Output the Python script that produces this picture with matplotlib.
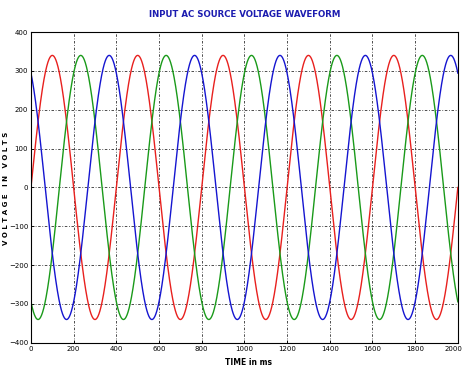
import numpy as np
import matplotlib
matplotlib.use("Agg")
import matplotlib.pyplot as plt
import matplotlib.transforms as mtransforms

# Data
phase_names = ["Phase A", "Phase B", "Phase C"]
phase_colors = ["#e8201e", "#1a9a1a", "#1515d0"]
phase_shift_deg = [0, -120, 120]      # relative phase of each waveform
peak_voltage = 340                    # volts
period_ms = 400                       # ms per cycle
t_end_ms = 2000
xticks = [0, 200, 400, 600, 800, 1000, 1200, 1400, 1600, 1800, 2000]
yticks = [-400, -300, -200, -100, 0, 100, 200, 300, 400]

t = np.linspace(0, t_end_ms, 4001)

fig = plt.figure(figsize=(4.62, 3.69), dpi=100)
ax = fig.add_axes([0.067, 0.071, 0.924, 0.842])

for name, col, ph in zip(phase_names, phase_colors, phase_shift_deg):
    v = peak_voltage * np.sin(2 * np.pi * t / period_ms + np.deg2rad(ph))
    ax.plot(t, v, color=col, lw=1.0, label=name)

ax.set_xlim(0, t_end_ms)
ax.set_ylim(-400, 400)
ax.set_xticks(xticks)
ax.set_yticks(yticks)
ax.tick_params(labelsize=5, length=2, width=0.6, direction="in", pad=2)
ax.grid(True, color="#303030", linestyle=(0, (3, 2, 1, 2)), linewidth=0.6)
for s in ax.spines.values():
    s.set_linewidth(0.8)

fig.canvas.draw()
last = ax.get_xticklabels()[-1]
last.set_transform(last.get_transform() +
                   mtransforms.ScaledTranslation(-4 / 100, 0, fig.dpi_scale_trans))

fig.text(0.53, 0.962, "INPUT AC SOURCE VOLTAGE WAVEFORM", ha="center", va="center",
         color="#1c1cb0", fontsize=6.2, fontweight="bold")
fig.text(0.537, 0.018, "TIME in ms", ha="center", va="center",
         color="black", fontsize=5.5, fontweight="bold")
fig.text(0.014, 0.49, "V O L T A G E   I N   V O L T S", ha="center", va="center",
         rotation=90, color="black", fontsize=5, fontweight="bold")

fig.savefig("out.png", dpi=100)
